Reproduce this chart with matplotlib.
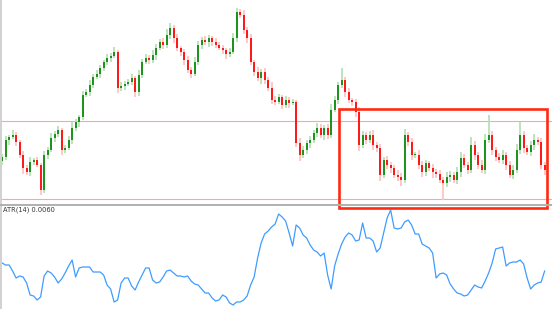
import numpy as np
import matplotlib.pyplot as plt
from matplotlib.patches import Rectangle
from matplotlib.lines import Line2D

# closing prices (arbitrary price units), one per candle
close = [52, 69, 72, 74, 67, 54, 41, 37, 47, 49,
         44, 19, 54, 59, 71, 75, 79, 59, 61, 69,
         81, 87, 92, 114, 117, 124, 132, 135, 141, 147,
         151, 153, 157, 121, 123, 125, 127, 131, 117, 134,
         147, 151, 149, 154, 161, 167, 164, 174, 181, 171,
         161, 157, 149, 139, 135, 147, 164, 169, 167, 171,
         167, 164, 161, 159, 155, 157, 171, 197, 194, 179,
         171, 147, 137, 131, 137, 129, 121, 109, 107, 112,
         104, 109, 106, 107, 66, 54, 59, 66, 69, 76,
         81, 74, 81, 74, 99, 109, 124, 129, 117, 109,
         107, 97, 64, 74, 69, 74, 64, 61, 34, 49,
         44, 41, 34, 32, 29, 74, 67, 54, 54, 44,
         37, 46, 41, 37, 35, 29, 26, 32, 34, 29,
         37, 51, 44, 39, 64, 54, 44, 39, 69, 74,
         59, 52, 49, 54, 44, 34, 39, 59, 74, 61,
         57, 64, 69, 67, 44, 39]

wick_hi = [3, 4, 2, 5, 3, 2, 4, 3, 5, 2,
           3, 2, 4, 3, 5, 3, 4, 2, 3, 4,
           6, 3, 2, 4, 3, 5, 3, 4, 3, 2,
           4, 3, 5, 2, 4, 3, 3, 4, 2, 5,
           3, 4, 3, 5, 4, 3, 4, 6, 5, 3,
           4, 2, 3, 4, 3, 5, 4, 3, 4, 3,
           2, 4, 3, 3, 2, 4, 5, 4, 3, 5,
           3, 4, 2, 5, 3, 4, 3, 6, 4, 3,
           2, 4, 3, 3, 2, 5, 4, 3, 4, 3,
           5, 4, 3, 4, 6, 4, 3, 12, 3, 4,
           2, 3, 5, 4, 3, 4, 5, 3, 4, 3,
           4, 3, 3, 5, 4, 6, 3, 4, 3, 5,
           4, 3, 2, 4, 3, 4, 3, 5, 4, 3,
           5, 6, 4, 3, 8, 4, 3, 5, 6, 20,
           4, 3, 4, 5, 3, 4, 5, 6, 13, 4,
           3, 4, 6, 3, 4, 3]

wick_lo = [4, 3, 5, 2, 4, 3, 6, 3, 4, 3,
           2, 5, 3, 4, 2, 4, 3, 5, 3, 2,
           4, 3, 5, 3, 2, 4, 3, 2, 4, 3,
           3, 4, 2, 5, 3, 4, 2, 3, 5, 4,
           3, 2, 4, 3, 5, 2, 4, 3, 4, 5,
           3, 4, 5, 3, 4, 2, 3, 4, 3, 5,
           4, 3, 2, 4, 5, 3, 2, 4, 3, 4,
           5, 3, 4, 3, 6, 4, 3, 4, 3, 2,
           4, 3, 5, 2, 4, 6, 3, 4, 5, 3,
           4, 3, 5, 4, 3, 2, 4, 3, 5, 3,
           4, 5, 6, 3, 4, 3, 5, 4, 6, 3,
           4, 5, 3, 4, 6, 3, 4, 5, 3, 4,
           5, 4, 3, 6, 4, 3, 17, 4, 5, 3,
           4, 5, 3, 4, 3, 5, 4, 3, 4, 3,
           5, 4, 3, 4, 5, 3, 4, 3, 4, 5,
           3, 4, 5, 3, 4, 5]

atr = [46, 44, 44, 38, 31, 33, 32, 26, 14, 13,
       9, 12, 33, 38, 36, 32, 26, 30, 36, 43,
       49, 32, 41, 42, 42, 42, 37, 37, 37, 34,
       24, 20, 7, 9, 26, 31, 31, 23, 19, 27,
       34, 41, 41, 29, 26, 27, 32, 38, 39, 36,
       33, 33, 32, 33, 28, 25, 24, 20, 16, 16,
       11, 8, 9, 14, 12, 6, 4, 7, 7, 9,
       13, 24, 32, 51, 66, 75, 78, 82, 85, 95,
       92, 88, 76, 63, 84, 81, 74, 71, 64, 59,
       57, 53, 56, 34, 20, 43, 55, 65, 72, 76,
       74, 68, 69, 86, 71, 71, 68, 57, 61, 76,
       91, 99, 81, 80, 81, 87, 89, 84, 75, 75,
       65, 63, 61, 56, 31, 35, 36, 34, 25, 20,
       16, 15, 13, 14, 19, 24, 22, 21, 28, 36,
       46, 60, 61, 62, 43, 46, 47, 47, 49, 45,
       31, 20, 24, 26, 27, 38]

first_open = 48
hlines = [88, 10]
box = (96.3, 1, 59.4, 99)  # x, y, width, height of highlighted range

close = np.array(close, dtype=float)
opn = np.concatenate([[first_open], close[:-1]])
high = np.maximum(opn, close) + np.array(wick_hi)
low = np.minimum(opn, close) - np.array(wick_lo)
x = np.arange(len(close))
up = close >= opn

fig = plt.figure(figsize=(5.52, 3.09), dpi=100)
fig.patch.set_facecolor("white")
ax_atr = fig.add_axes([0, 0, 1, 103 / 309])
ax = fig.add_axes([0, 104 / 309, 1, 205 / 309])
for a in (ax, ax_atr):
    a.set_facecolor("none")
    a.set_axis_off()
    a.set_xlim(-0.6, 157.1)
ax.set_ylim(4, 209)
ax_atr.set_ylim(0, 103)

for y in hlines:
    ax.axhline(y, color="#f5a8a8", lw=0.8, zorder=1)

ax.vlines(x[up], low[up], high[up], color="#b9dfb9", lw=1.3, zorder=2)
ax.vlines(x[~up], low[~up], high[~up], color="#ffc4c4", lw=1.3, zorder=2)
body = np.where(np.abs(close - opn) < 1, 1, close - opn)
ax.bar(x[up], body[up], bottom=opn[up], width=0.6, color="#1e931e", zorder=3)
ax.bar(x[~up], body[~up], bottom=opn[~up], width=0.6, color="#ff1a1a", zorder=3)

ax.add_patch(Rectangle(box[:2], box[2], box[3], fill=False, ec="#ff2a12",
                       lw=1.9, clip_on=False, zorder=5))

ax_atr.plot(x, atr, color="#3f9cff", lw=0.9)

# separator and left frame
fig.add_artist(Line2D([0, 1], [1 - 205 / 309] * 2, color="#b0b0b0", lw=1.4))
fig.add_artist(Rectangle((0, 0), 2 / 552, 1, color="#d2d2d2", lw=0))
fig.text(3 / 552, 1 - 210 / 309, "ATR(14) 0.0060", fontsize=4.8,
         color="#333333", va="center", ha="left")

fig.savefig("out.png", dpi=100)
